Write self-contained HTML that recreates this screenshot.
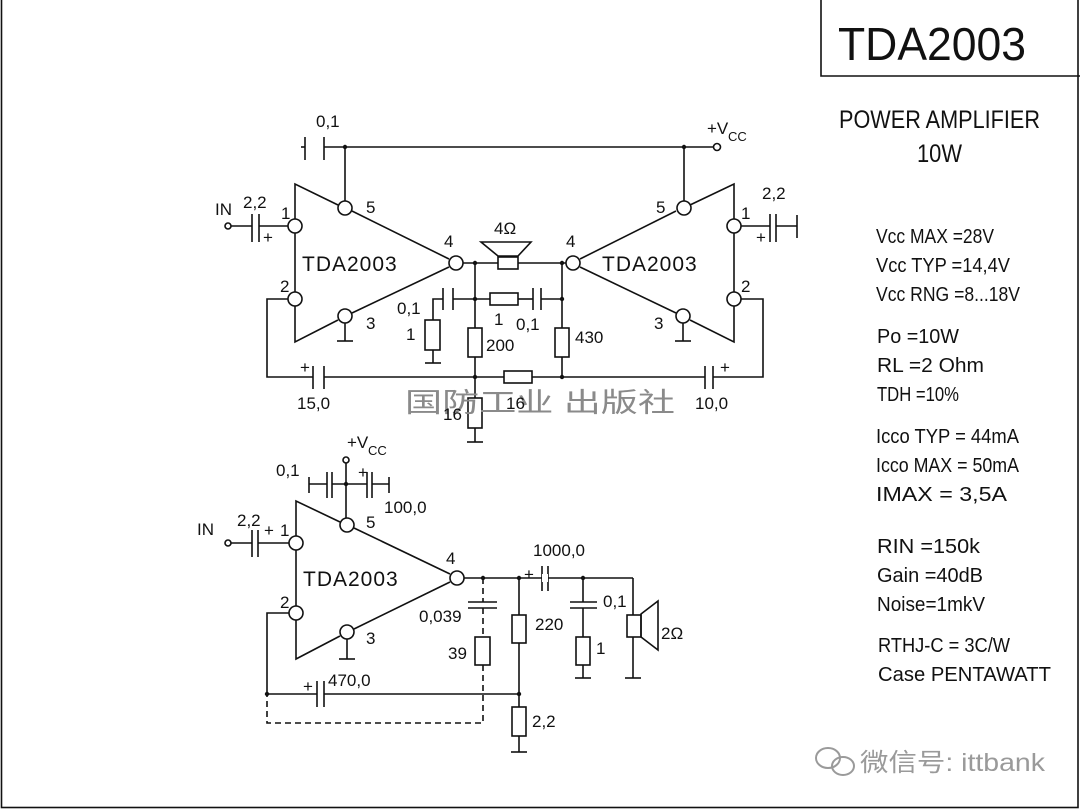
<!DOCTYPE html>
<html><head><meta charset="utf-8"><style>
html,body{margin:0;padding:0;background:#fff;}
svg{display:block;}
text{font-family:"Liberation Sans","Noto Sans CJK SC",sans-serif;fill:#111;}
.l{font-size:17px;}
.s{font-size:20px;}
</style></head><body>
<svg width="1080" height="810" viewBox="0 0 1080 810" xmlns="http://www.w3.org/2000/svg">
<g fill="none" stroke="#111" stroke-width="1.6">
<rect x="1.5" y="-2" width="1076.5" height="809.5"/>
<polyline points="821,0 821,76 1080,76"/>

<!-- ===== TOP CIRCUIT ===== -->
<line x1="324" y1="147" x2="713" y2="147"/>
<line x1="305" y1="137" x2="305" y2="160"/><line x1="324" y1="137" x2="324" y2="160"/>
<line x1="301" y1="147" x2="305" y2="147"/>
<circle cx="717" cy="147" r="3.5"/>
<line x1="345" y1="147" x2="345" y2="201"/>
<line x1="684" y1="147" x2="684" y2="201"/>
<!-- left triangle -->
<polyline points="295,219 295,184 338,205"/>
<line x1="352" y1="211" x2="449" y2="259"/>
<line x1="295" y1="233" x2="295" y2="292"/>
<polyline points="295,306 295,342 338,320"/>
<line x1="352" y1="313" x2="449" y2="267"/>
<circle cx="295" cy="226" r="7"/><circle cx="295" cy="299" r="7"/>
<circle cx="345" cy="208" r="7"/><circle cx="345" cy="316" r="7"/>
<circle cx="456" cy="263" r="7"/>
<line x1="345" y1="323" x2="345" y2="341"/><line x1="337" y1="341" x2="353" y2="341"/>
<!-- right triangle -->
<polyline points="734,219 734,184 690,205"/>
<line x1="676" y1="211" x2="580" y2="259"/>
<line x1="734" y1="233" x2="734" y2="292"/>
<polyline points="734,306 734,342 690,320"/>
<line x1="676" y1="313" x2="580" y2="267"/>
<circle cx="734" cy="226" r="7"/><circle cx="734" cy="299" r="7"/>
<circle cx="684" cy="208" r="7"/><circle cx="683" cy="316" r="7"/>
<circle cx="573" cy="263" r="7"/>
<line x1="683" y1="323" x2="683" y2="341"/><line x1="675" y1="341" x2="691" y2="341"/>
<!-- input left -->
<circle cx="228" cy="226" r="3"/>
<line x1="231" y1="226" x2="252" y2="226"/>
<line x1="252" y1="214" x2="252" y2="242"/><line x1="259" y1="214" x2="259" y2="242"/>
<line x1="259" y1="226" x2="288" y2="226"/>
<!-- input right -->
<line x1="741" y1="226" x2="770" y2="226"/>
<line x1="770" y1="214" x2="770" y2="242"/><line x1="776" y1="214" x2="776" y2="242"/>
<line x1="776" y1="226" x2="797" y2="226"/><line x1="797" y1="215" x2="797" y2="238"/>
<!-- feedback loops -->
<polyline points="288,299 267,299 267,377 313,377"/>
<line x1="313" y1="366" x2="313" y2="389"/><line x1="324" y1="366" x2="324" y2="389"/>
<line x1="324" y1="377" x2="504" y2="377"/>
<rect x="504" y="371" width="28" height="12"/>
<line x1="532" y1="377" x2="705" y2="377"/>
<line x1="705" y1="366" x2="705" y2="389"/><line x1="713" y1="366" x2="713" y2="389"/>
<polyline points="713,377 763,377 763,299 741,299"/>
<!-- speaker bridge -->
<line x1="463" y1="263" x2="498" y2="263"/>
<rect x="498" y="257" width="20" height="12"/>
<polygon points="481,242 531,242 518,256 498,256"/>
<line x1="518" y1="263" x2="566" y2="263"/>
<!-- middle row -->
<line x1="453" y1="299" x2="490" y2="299"/>
<line x1="443" y1="288" x2="443" y2="310"/><line x1="453" y1="288" x2="453" y2="310"/>
<polyline points="443,299 433,299 433,320"/>
<rect x="425" y="320" width="15" height="30"/>
<line x1="433" y1="350" x2="433" y2="363"/><line x1="425" y1="363" x2="441" y2="363"/>
<rect x="490" y="293" width="28" height="12"/>
<line x1="518" y1="299" x2="533" y2="299"/>
<line x1="533" y1="288" x2="533" y2="310"/><line x1="541" y1="288" x2="541" y2="310"/>
<line x1="541" y1="299" x2="562" y2="299"/>
<line x1="475" y1="263" x2="475" y2="328"/>
<rect x="468" y="328" width="14" height="29"/>
<line x1="475" y1="357" x2="475" y2="398"/>
<rect x="468" y="398" width="14" height="30"/>
<line x1="475" y1="428" x2="475" y2="442"/><line x1="467" y1="442" x2="483" y2="442"/>
<line x1="562" y1="263" x2="562" y2="328"/>
<rect x="555" y="328" width="14" height="29"/>
<line x1="562" y1="357" x2="562" y2="377"/>

<!-- ===== BOTTOM CIRCUIT ===== -->
<polyline points="296,536 296,501 340,522"/>
<line x1="354" y1="528" x2="450" y2="574"/>
<line x1="296" y1="550" x2="296" y2="606"/>
<polyline points="296,620 296,659 340,636"/>
<line x1="354" y1="629" x2="450" y2="582"/>
<circle cx="296" cy="543" r="7"/><circle cx="296" cy="613" r="7"/>
<circle cx="347" cy="525" r="7"/><circle cx="347" cy="632" r="7"/>
<circle cx="457" cy="578" r="7"/>
<line x1="347" y1="639" x2="347" y2="659"/><line x1="339" y1="659" x2="355" y2="659"/>
<circle cx="346" cy="460" r="3"/>
<line x1="346" y1="463" x2="346" y2="518"/>
<line x1="309" y1="477" x2="309" y2="493"/><line x1="309" y1="484" x2="327" y2="484"/>
<line x1="327" y1="472" x2="327" y2="498"/><line x1="332" y1="472" x2="332" y2="498"/>
<line x1="332" y1="484" x2="367" y2="484"/>
<line x1="367" y1="472" x2="367" y2="498"/><line x1="372" y1="472" x2="372" y2="498"/>
<line x1="372" y1="484" x2="389" y2="484"/><line x1="389" y1="477" x2="389" y2="493"/>
<circle cx="228" cy="543" r="3"/>
<line x1="231" y1="543" x2="252" y2="543"/>
<line x1="252" y1="530" x2="252" y2="557"/><line x1="258" y1="530" x2="258" y2="557"/>
<line x1="258" y1="543" x2="289" y2="543"/>
<polyline points="289,613 267,613 267,694 317,694"/>
<line x1="317" y1="681" x2="317" y2="707"/><line x1="324" y1="681" x2="324" y2="707"/>
<line x1="324" y1="694" x2="519" y2="694"/>
<line x1="464" y1="578" x2="633" y2="578"/>
<line x1="542" y1="566" x2="542" y2="591"/><line x1="548" y1="566" x2="548" y2="591"/>
<rect x="542" y="574" width="6" height="8" fill="#fff" stroke="none"/>
<polyline points="633,578 633,615"/>
<rect x="627" y="615" width="14" height="22"/>
<line x1="633" y1="637" x2="633" y2="678"/><line x1="625" y1="678" x2="641" y2="678"/>
<polygon points="641,614 658,601 658,650 641,637"/>
<line x1="468" y1="602" x2="497" y2="602"/><line x1="468" y1="608" x2="497" y2="608"/>
<rect x="475" y="637" width="15" height="28"/>
<line x1="519" y1="578" x2="519" y2="615"/>
<rect x="512" y="615" width="14" height="28"/>
<line x1="519" y1="643" x2="519" y2="707"/>
<rect x="512" y="707" width="14" height="29"/>
<line x1="519" y1="736" x2="519" y2="752"/><line x1="511" y1="752" x2="527" y2="752"/>
<line x1="583" y1="578" x2="583" y2="602"/>
<line x1="570" y1="602" x2="597" y2="602"/><line x1="570" y1="608" x2="597" y2="608"/>
<line x1="583" y1="608" x2="583" y2="637"/>
<rect x="576" y="637" width="14" height="28"/>
<line x1="583" y1="665" x2="583" y2="678"/><line x1="575" y1="678" x2="591" y2="678"/>
</g>
<g fill="none" stroke="#111" stroke-width="1.6" stroke-dasharray="6,4">
<line x1="483" y1="578" x2="483" y2="602"/>
<line x1="483" y1="608" x2="483" y2="637"/>
<polyline points="483,665 483,723 267,723 267,694"/>
</g>
<g fill="#111">
<circle cx="345" cy="147" r="2.2"/><circle cx="684" cy="147" r="2.2"/>
<circle cx="475" cy="263" r="2.2"/><circle cx="562" cy="263" r="2.2"/>
<circle cx="475" cy="299" r="2.2"/><circle cx="562" cy="299" r="2.2"/>
<circle cx="475" cy="377" r="2.2"/><circle cx="562" cy="377" r="2.2"/>
<circle cx="346" cy="484" r="2.2"/>
<circle cx="483" cy="578" r="2.2"/><circle cx="519" cy="578" r="2.2"/><circle cx="583" cy="578" r="2.2"/>
<circle cx="267" cy="694" r="2.2"/><circle cx="519" cy="694" r="2.2"/>
</g>

<!-- watermark -->
<text x="405" y="412" font-size="27" style="fill:#8a8a8a" textLength="270" lengthAdjust="spacingAndGlyphs">国防工业 出版社</text>

<!-- top labels -->
<text class="l" x="316" y="127">0,1</text>
<text class="l" x="707" y="134">+V</text><text x="728" y="141" font-size="13">CC</text>
<text class="l" x="215" y="215">IN</text>
<text class="l" x="243" y="208">2,2</text>
<text class="l" x="263" y="243">+</text>
<text class="l" x="281" y="219">1</text>
<text class="l" x="366" y="213">5</text>
<text class="l" x="280" y="292">2</text>
<text class="l" x="366" y="329">3</text>
<text class="l" x="444" y="247">4</text>
<text x="302" y="271" font-size="21" letter-spacing="1">TDA2003</text>
<text x="602" y="271" font-size="21" letter-spacing="1">TDA2003</text>
<text class="l" x="494" y="234">4Ω</text>
<text class="l" x="566" y="247">4</text>
<text class="l" x="656" y="213">5</text>
<text class="l" x="741" y="219">1</text>
<text class="l" x="741" y="292">2</text>
<text class="l" x="654" y="329">3</text>
<text class="l" x="762" y="199">2,2</text>
<text class="l" x="756" y="243">+</text>
<text class="l" x="397" y="314">0,1</text>
<text class="l" x="406" y="340">1</text>
<text class="l" x="494" y="325">1</text>
<text class="l" x="516" y="330">0,1</text>
<text class="l" x="486" y="351">200</text>
<text class="l" x="575" y="343">430</text>
<text class="l" x="300" y="373">+</text>
<text class="l" x="720" y="373">+</text>
<text class="l" x="297" y="409">15,0</text>
<text class="l" x="695" y="409">10,0</text>
<text class="l" x="443" y="420">16</text>
<text class="l" x="506" y="409">16</text>

<!-- bottom labels -->
<text class="l" x="347" y="448">+V</text><text x="368" y="455" font-size="13">CC</text>
<text class="l" x="276" y="476">0,1</text>
<text class="l" x="358" y="478">+</text>
<text class="l" x="384" y="513">100,0</text>
<text class="l" x="197" y="535">IN</text>
<text class="l" x="237" y="526">2,2</text>
<text class="l" x="264" y="536">+</text>
<text class="l" x="280" y="536">1</text>
<text class="l" x="366" y="528">5</text>
<text class="l" x="280" y="608">2</text>
<text class="l" x="366" y="644">3</text>
<text class="l" x="446" y="564">4</text>
<text x="303" y="586" font-size="21" letter-spacing="1">TDA2003</text>
<text class="l" x="533" y="556">1000,0</text>
<text class="l" x="524" y="580">+</text>
<text class="l" x="419" y="622">0,039</text>
<text class="l" x="448" y="659">39</text>
<text class="l" x="535" y="630">220</text>
<text class="l" x="603" y="607">0,1</text>
<text class="l" x="596" y="654">1</text>
<text class="l" x="661" y="639">2Ω</text>
<text class="l" x="303" y="692">+</text>
<text class="l" x="328" y="686">470,0</text>
<text class="l" x="532" y="727">2,2</text>

<!-- right panel -->
<text x="838" y="60" font-size="46" textLength="188" lengthAdjust="spacingAndGlyphs">TDA2003</text>
<text x="839" y="128" font-size="25" textLength="201" lengthAdjust="spacingAndGlyphs">POWER AMPLIFIER</text>
<text x="917" y="162" font-size="25" textLength="45" lengthAdjust="spacingAndGlyphs">10W</text>
<text class="s" x="876" y="243" textLength="118" lengthAdjust="spacingAndGlyphs">Vcc MAX =28V</text>
<text class="s" x="876" y="272" textLength="134" lengthAdjust="spacingAndGlyphs">Vcc TYP =14,4V</text>
<text class="s" x="876" y="301" textLength="144" lengthAdjust="spacingAndGlyphs">Vcc RNG =8...18V</text>
<text class="s" x="877" y="343" textLength="82" lengthAdjust="spacingAndGlyphs">Po =10W</text>
<text class="s" x="877" y="372" textLength="107" lengthAdjust="spacingAndGlyphs">RL =2 Ohm</text>
<text class="s" x="877" y="401" textLength="82" lengthAdjust="spacingAndGlyphs">TDH =10%</text>
<text class="s" x="876" y="443" textLength="143" lengthAdjust="spacingAndGlyphs">Icco TYP = 44mA</text>
<text class="s" x="876" y="472" textLength="143" lengthAdjust="spacingAndGlyphs">Icco MAX = 50mA</text>
<text class="s" x="876" y="501" textLength="131" lengthAdjust="spacingAndGlyphs">IMAX =    3,5A</text>
<text class="s" x="877" y="553" textLength="103" lengthAdjust="spacingAndGlyphs">RIN =150k</text>
<text class="s" x="877" y="582" textLength="106" lengthAdjust="spacingAndGlyphs">Gain =40dB</text>
<text class="s" x="877" y="611" textLength="108" lengthAdjust="spacingAndGlyphs">Noise=1mkV</text>
<text class="s" x="878" y="652" textLength="132" lengthAdjust="spacingAndGlyphs">RTHJ-C = 3C/W</text>
<text class="s" x="878" y="681" textLength="173" lengthAdjust="spacingAndGlyphs">Case PENTAWATT</text>

<!-- wechat watermark -->
<g fill="none" stroke="#9a9a9a" stroke-width="2">
<ellipse cx="828" cy="758" rx="12" ry="10"/>
<ellipse cx="843" cy="766" rx="11" ry="9"/>
</g>
<text x="860" y="771" font-size="25" style="fill:#9a9a9a" textLength="185" lengthAdjust="spacingAndGlyphs">微信号: ittbank</text>
</svg>
</body></html>
